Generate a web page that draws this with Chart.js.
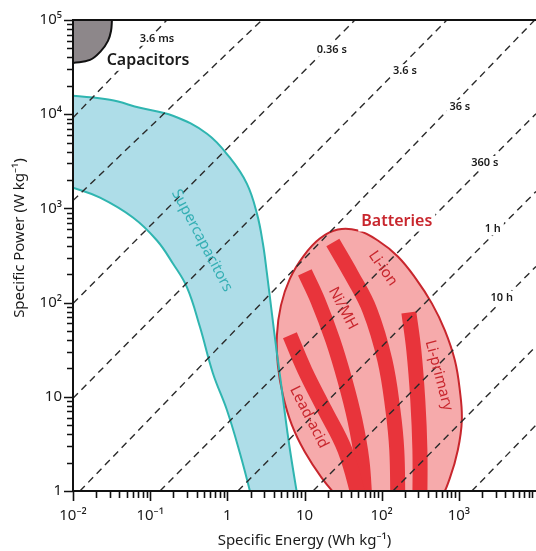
<!DOCTYPE html>
<html>
<head>
<meta charset="utf-8">
<script src="https://cdn.jsdelivr.net/npm/chart.js@4.4.1/dist/chart.umd.min.js"></script>
<style>
  html, body { margin: 0; padding: 0; background: #fff; }
  #wrap { width: 536px; height: 551px; }
</style>
</head>
<body>
<div id="wrap"><canvas id="ragone"></canvas></div>
<script>
// ---- values (E in Wh/kg, P in W/kg) ----
const energyTicks = [0.01, 0.1, 1, 10, 100, 1000];
const energyTickLabels = ['10⁻²', '10⁻¹', '1', '10', '10²', '10³'];
const powerTicks = [1, 10, 100, 1000, 10000, 100000];
const powerTickLabels = ['1', '10', '10²', '10³', '10⁴', '10⁵'];

// capacitors: quarter disc in the top-left corner
const capE = [0.01, 0.0166, 0.0231, 0.0284, 0.0311, 0.032];
const capP = [35000, 37700, 47000, 60000, 76400, 100000];

// supercapacitors: upper and lower edge of the band
const supUpperE = [0.01, 0.03, 0.0738, 0.197, 0.545, 1.08, 1.79, 2.42, 2.89, 3.26, 3.78, 4.39, 4.9, 6.2, 7.9, 8.6];
const supUpperP = [15700, 14200, 11700, 9620, 6200, 3450, 1830, 880, 424, 204, 77, 29, 15, 3.5, 1, 0.7];
const supLowerE = [0.01, 0.0224, 0.0598, 0.1225, 0.197, 0.3, 0.442, 0.65, 0.99, 1.46, 1.96, 2.1];
const supLowerP = [1660, 1300, 800, 456, 260, 145, 55, 17.8, 7.2, 2.5, 1, 0.75];

// batteries: outline of the ellipse (runs below the axis, gets clipped)
const batE = [28.75, 16.8, 10.12, 6.87, 5.25, 4.52, 4.39, 4.95, 6.47, 9.82, 15.8, 27.1, 49.2, 89.3,
  162, 277, 447, 659, 888, 1030, 1094, 971, 765, 567, 313, 128, 52.2, 28.75];
const batP = [0.803, 1.37, 2.59, 5.0, 10.4, 21.6, 44.9, 93.4, 180, 316, 479, 596, 582, 456,
  309, 180, 98.1, 50.8, 24.4, 11.75, 5.65, 2.72, 1.37, 0.803, 0.493, 0.386, 0.493, 0.803];

// battery chemistries: centre line of each band
const leadAcidE = [6.47, 10.1, 18.4, 33.4, 52];
const leadAcidP = [45, 19.1, 7.2, 2.72, 0.8];
const niMhE = [10.1, 14.9, 23.3, 33.4, 45, 55.4, 60.6];
const niMhP = [209, 105, 39.8, 15, 5.65, 2.13, 0.8];
const liIonE = [23.3, 41.1, 70.3, 110, 140, 157, 162];
const liIonP = [434, 194, 82.6, 24.4, 7.2, 2.72, 0.8];
const liPrimE = [225, 261, 294, 313, 313];
const liPrimP = [78.7, 31.2, 9.2, 2.72, 0.8];

// constant discharge-time guide lines (start and end of each)
const guideStartE = [0.01, 0.01, 0.01, 0.01, 0.0123, 0.134, 1.37, 12.9, 140, 1473];
const guideStartP = [9160, 1210, 98, 9.66, 1, 1, 1, 1, 1, 1];
const guideEndE = [0.165, 2.81, 45, 700, 9640, 10000, 10000, 10000, 10000, 10000];
const guideEndP = [100000, 100000, 100000, 100000, 100000, 10100, 1510, 242, 34.4, 5];

const FONT = "'Noto Sans', 'DejaVu Sans', sans-serif";
const TEAL = '#2fb5b0';
const RED = '#e8343b';
const DARKRED = '#c8262d';

Chart.defaults.font.family = FONT;

const pts = (es, ps) => es.map((e, i) => ({x: e, y: ps[i]}));

// text placed on the plot, anchored in data units
const notes = [
  {text: '3.6 ms', e: 0.1225, p: 63000, size: 11, weight: 600, color: '#1a1a1a', box: true},
  {text: '0.36 s', e: 22.6, p: 48100, size: 11, weight: 600, color: '#1a1a1a', box: true},
  {text: '3.6 s', e: 200, p: 28800, size: 11, weight: 600, color: '#1a1a1a', box: true},
  {text: '36 s', e: 1030, p: 12000, size: 11, weight: 600, color: '#1a1a1a', box: true},
  {text: '360 s', e: 2170, p: 3050, size: 11, weight: 600, color: '#1a1a1a', box: true},
  {text: '1 h', e: 2750, p: 611, size: 11, weight: 600, color: '#1a1a1a', box: true},
  {text: '10 h', e: 3600, p: 113, size: 11, weight: 600, color: '#1a1a1a', box: true},
  {text: 'Capacitors', e: 0.0937, p: 36800, size: 16, weight: 600, color: '#1a1a1a', box: true},
  {text: 'Batteries', e: 157, p: 724, size: 16, weight: 600, color: DARKRED, box: true},
  {text: 'Supercapacitors', e: 0.469, p: 456, size: 15, weight: 400, color: '#35afb4', angle: 62},
  {text: 'Li-ion', e: 104, p: 230, size: 15, weight: 400, color: DARKRED, angle: 55},
  {text: 'Ni/MH', e: 31.4, p: 86.9, size: 15, weight: 400, color: DARKRED, angle: 62},
  {text: 'Li-primary', e: 551, p: 16.9, size: 15, weight: 400, color: DARKRED, angle: 75},
  {text: 'Lead-acid', e: 11.4, p: 6.08, size: 15, weight: 400, color: DARKRED, angle: 63}
];

const datasets = [];

// guide lines on top
guideStartE.forEach((e, i) => {
  datasets.push({
    data: [{x: e, y: guideStartP[i]}, {x: guideEndE[i], y: guideEndP[i]}],
    borderColor: '#2a2a2a', borderWidth: 1.4, borderDash: [7, 5],
    tension: 0, order: 0
  });
});

// battery bands
[[leadAcidE, leadAcidP], [niMhE, niMhP], [liIonE, liIonP], [liPrimE, liPrimP]].forEach(([es, ps]) => {
  datasets.push({
    data: pts(es, ps), borderColor: RED, borderWidth: 15,
    borderCapStyle: 'butt', tension: 0.4, order: 1
  });
});

// battery ellipse
datasets.push({
  data: pts(batE, batP), borderColor: DARKRED, borderWidth: 2,
  backgroundColor: '#f6aaab', fill: 'shape', tension: 0.4, order: 2
});

// supercapacitor edges + fill
datasets.push({data: pts(supUpperE, supUpperP), borderColor: TEAL, borderWidth: 2, tension: 0.4, order: 1});
datasets.push({data: pts(supLowerE, supLowerP), borderColor: TEAL, borderWidth: 2, tension: 0.4, order: 1});
datasets.push({
  data: pts(supUpperE, supUpperP).concat(pts(supLowerE, supLowerP).reverse()),
  borderWidth: 0, borderColor: 'rgba(0,0,0,0)', backgroundColor: '#aedde8',
  fill: 'shape', tension: 0.4, order: 3
});

// capacitors
datasets.push({
  data: pts(capE, capP), borderColor: '#111', borderWidth: 2,
  backgroundColor: '#8d878a', fill: 'end', tension: 0.4, order: 1
});

datasets.forEach(d => { d.showLine = true; d.pointRadius = 0; d.clip = 0; });

// minor tick values for the log axes
function minorTicks(decades, max) {
  const out = [];
  decades.forEach(d => {
    for (let m = 2; m <= 9; m++) if (m * d <= max) out.push(m * d);
  });
  return out;
}

const decor = {
  id: 'decor',
  afterDatasetsDraw(chart) {
    const {ctx} = chart;
    const xs = chart.scales.x, ys = chart.scales.y;
    ctx.save();
    ctx.textAlign = 'center';
    ctx.textBaseline = 'middle';
    notes.forEach(n => {
      ctx.save();
      ctx.translate(xs.getPixelForValue(n.e), ys.getPixelForValue(n.p));
      ctx.rotate((n.angle || 0) * Math.PI / 180);
      ctx.font = `${n.weight} ${n.size}px ${FONT}`;
      if (n.box) {
        const w = ctx.measureText(n.text).width;
        ctx.fillStyle = '#fff';
        ctx.fillRect(-w / 2 - 3, -n.size * 0.62, w + 6, n.size * 1.24);
      }
      ctx.fillStyle = n.color;
      ctx.fillText(n.text, 0, 0);
      ctx.restore();
    });
    ctx.restore();
  },
  afterDraw(chart) {
    const {ctx, chartArea} = chart;
    const xs = chart.scales.x, ys = chart.scales.y;
    ctx.save();
    ctx.strokeStyle = '#111';

    // top frame
    ctx.lineWidth = 2;
    ctx.beginPath();
    ctx.moveTo(chartArea.left - 1, chartArea.top);
    ctx.lineTo(chartArea.right, chartArea.top);
    ctx.stroke();

    // tick marks
    ctx.lineWidth = 1.6;
    const xMinor = minorTicks([0.01, 0.1, 1, 10, 100, 1000], 10000);
    const yMinor = minorTicks([1, 10, 100, 1000, 10000], 100000);
    ctx.beginPath();
    energyTicks.forEach(v => {
      const px = Math.round(xs.getPixelForValue(v)) + 0.5;
      ctx.moveTo(px, chartArea.bottom); ctx.lineTo(px, chartArea.bottom + 10);
    });
    xMinor.forEach(v => {
      const px = Math.round(xs.getPixelForValue(v)) + 0.5;
      ctx.moveTo(px, chartArea.bottom); ctx.lineTo(px, chartArea.bottom + 7);
    });
    powerTicks.forEach(v => {
      const py = Math.round(ys.getPixelForValue(v)) + 0.5;
      ctx.moveTo(chartArea.left, py); ctx.lineTo(chartArea.left - 9, py);
    });
    yMinor.forEach(v => {
      const py = Math.round(ys.getPixelForValue(v)) + 0.5;
      ctx.moveTo(chartArea.left, py); ctx.lineTo(chartArea.left - 6, py);
    });
    ctx.stroke();

    // y axis title (sits a little above the middle of the axis)
    ctx.translate(20, 238);
    ctx.rotate(-Math.PI / 2);
    ctx.font = `400 15px ${FONT}`;
    ctx.fillStyle = '#1a1a1a';
    ctx.textAlign = 'center';
    ctx.textBaseline = 'middle';
    ctx.fillText('Specific Power (W kg⁻¹)', 0, 0);
    ctx.restore();
  }
};

new Chart(document.getElementById('ragone'), {
  type: 'scatter',
  data: {datasets},
  options: {
    responsive: true,
    maintainAspectRatio: false,
    animation: false,
    layout: {padding: {top: 19, right: 0, left: 0, bottom: 0}},
    elements: {line: {capBezierPoints: false}},
    plugins: {legend: {display: false}, tooltip: {enabled: false}},
    scales: {
      x: {
        type: 'logarithmic', position: 'bottom', min: 0.01, max: 10000, z: 1,
        grid: {display: false, drawTicks: false},
        border: {display: true, color: '#111', width: 2, z: 1},
        afterBuildTicks: s => { s.ticks = energyTicks.map(v => ({value: v})); },
        afterFit: s => { s.height = 60; },
        ticks: {
          autoSkip: false, maxRotation: 0, minRotation: 0, padding: 16,
          color: '#1a1a1a', font: {size: 15},
          callback: (v, i) => energyTickLabels[i]
        },
        title: {
          display: true, text: 'Specific Energy (Wh kg⁻¹)', color: '#1a1a1a',
          font: {size: 15}, padding: {top: 0, bottom: 1}
        }
      },
      y: {
        type: 'logarithmic', position: 'left', min: 1, max: 100000, z: 1,
        grid: {display: false, drawTicks: false},
        border: {display: true, color: '#111', width: 2, z: 1},
        afterBuildTicks: s => { s.ticks = powerTicks.map(v => ({value: v})); },
        afterFit: s => { s.width = 73; },
        ticks: {
          autoSkip: false, padding: 11, color: '#1a1a1a', font: {size: 15},
          callback: (v, i) => powerTickLabels[i]
        }
      }
    }
  },
  plugins: [decor]
});
</script>
</body>
</html>
